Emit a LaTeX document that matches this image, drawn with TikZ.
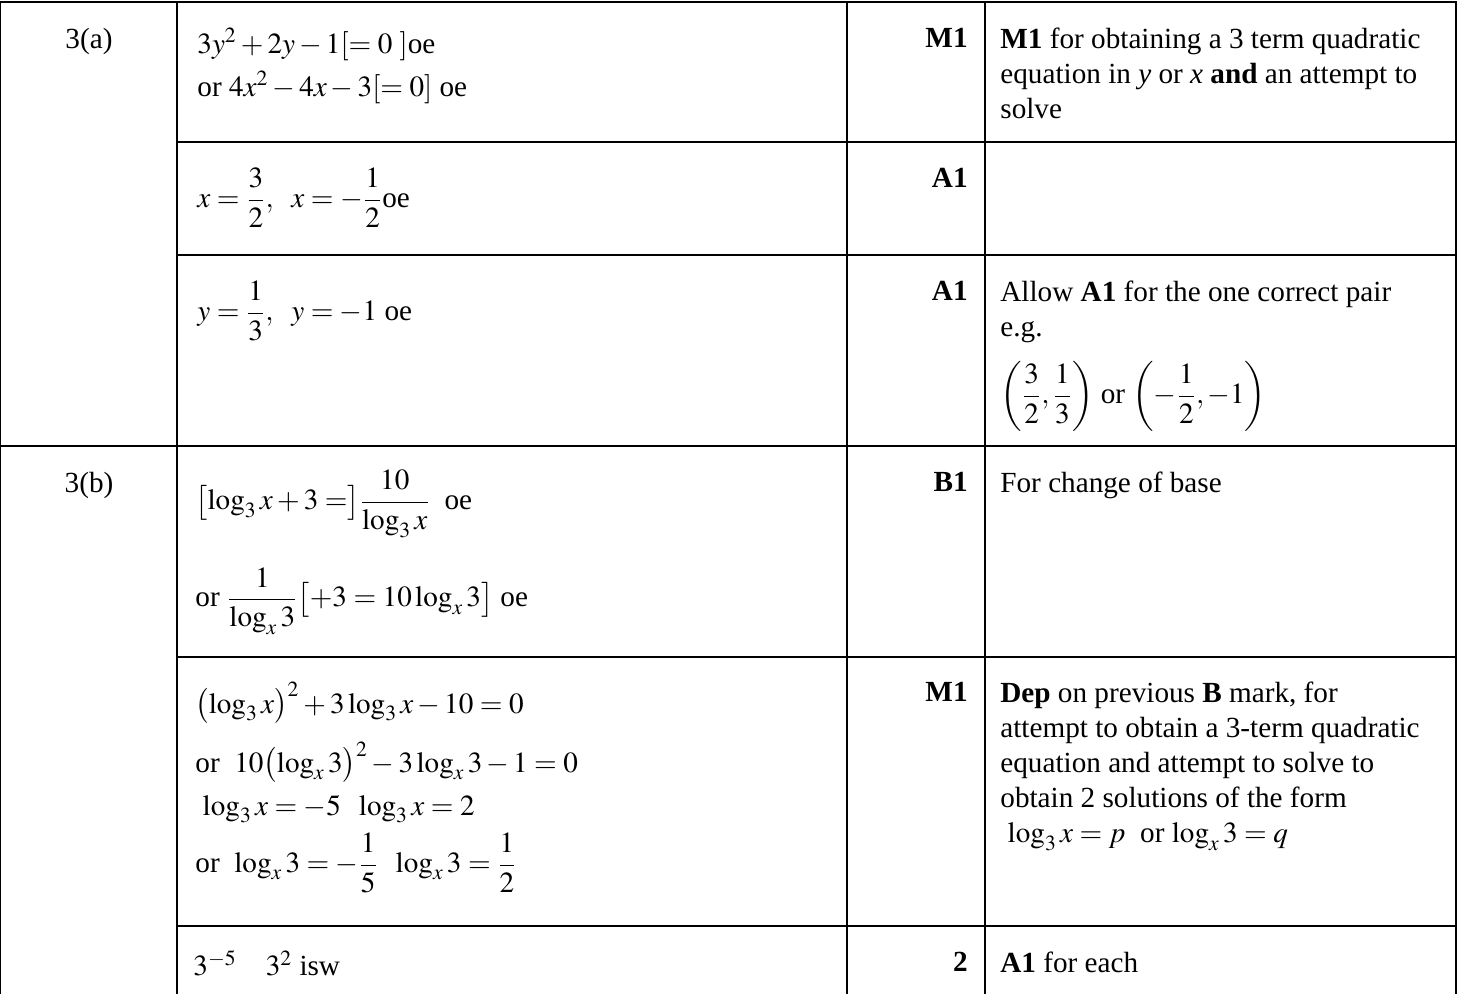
\documentclass[tikz,border=0pt]{standalone}
\usepackage{mathptmx}
\usepackage[no-math]{fontspec}
\setmainfont{Liberation Serif}
\usepackage{amsmath}
\begin{document}
\begin{tikzpicture}[x=0.5pt,y=-0.5pt,
    cell/.style={anchor=north west, inner sep=0pt, align=left, font=\fontsize{14.6}{17.5}\selectfont},
    score/.style={anchor=north east, inner sep=0pt, font=\fontsize{14.6}{17.5}\selectfont\bfseries},
    part/.style={anchor=north, inner sep=0pt, font=\fontsize{14.6}{17.5}\selectfont},
    rule/.style={line width=0.8pt}]
  \useasboundingbox (0,0) rectangle (1457,994);
  % grid
  \draw[rule] (0,2) -- (1457,2);
  \draw[rule] (177,142) -- (1457,142);
  \draw[rule] (177,255) -- (1457,255);
  \draw[rule] (0,446) -- (1457,446);
  \draw[rule] (177,657) -- (1457,657);
  \draw[rule] (177,926) -- (1457,926);
  \foreach \x in {0,177,847,985,1456} \draw[rule] (\x,2) -- (\x,994);

  % 3(a)
  \node[part] (qa) at (89,28) {3(a)};
  \node[cell] (a1) at (197,28) {$3y^2+2y-1[=0\ ]$oe\\[4pt]or $4x^2-4x-3[=0]$ oe};
  \node[score] (m1) at (968,28) {M1};
  \node[cell] (c1) at (1000,28) {\textbf{M1} for obtaining a 3 term quadratic\\equation in \textit{y} or \textit{x} \textbf{and} an attempt to\\solve};
  \node[cell] (a2) at (197,168) {$x=\dfrac{3}{2},\ \ x=-\dfrac{1}{2}$oe};
  \node[score] (m2) at (968,168) {A1};
  \node[cell] (a3) at (197,281) {$y=\dfrac{1}{3},\ \ y=-1$ oe};
  \node[score] (m3) at (968,281) {A1};
  \node[cell] (c3) at (1000,281) {Allow \textbf{A1} for the one correct pair\\e.g.\\[8pt]$\left(\dfrac{3}{2},\dfrac{1}{3}\right)$ or $\left(-\dfrac{1}{2},-1\right)$};

  % 3(b)
  \node[part] (qb) at (89,472) {3(b)};
  \node[cell] (b1) at (195,470) {$\bigl[\log_3 x+3=\bigr]\dfrac{10}{\log_3 x}$\ \ oe\\[14pt]or $\dfrac{1}{\log_x 3}\bigl[+3=10\log_x 3\bigr]$ oe};
  \node[score] (m4) at (968,472) {B1};
  \node[cell] (c4) at (1000,472) {For change of base};
  \node[cell] (b2) at (195,682) {$\bigl(\log_3 x\bigr)^2+3\log_3 x-10=0$\\[8pt]or\ \ $10\bigl(\log_x 3\bigr)^2-3\log_x 3-1=0$\\[4pt]\ $\log_3 x=-5\ \ \log_3 x=2$\\[4pt]or\ \ $\log_x 3=-\dfrac{1}{5}\ \ \log_x 3=\dfrac{1}{2}$};
  \node[score] (m5) at (968,682) {M1};
  \node[cell] (c5) at (1000,682) {\textbf{Dep} on previous \textbf{B} mark, for\\attempt to obtain a 3-term quadratic\\equation and attempt to solve to\\obtain 2 solutions of the form\\\ $\log_3 x=p$\ \ or\ $\log_x 3=q$};
  \node[cell] (b3) at (193,950) {$3^{-5}\quad 3^2$ isw};
  \node[score] (m6) at (968,952) {2};
  \node[cell] (c6) at (1000,952) {\textbf{A1} for each};
\end{tikzpicture}
\end{document}
